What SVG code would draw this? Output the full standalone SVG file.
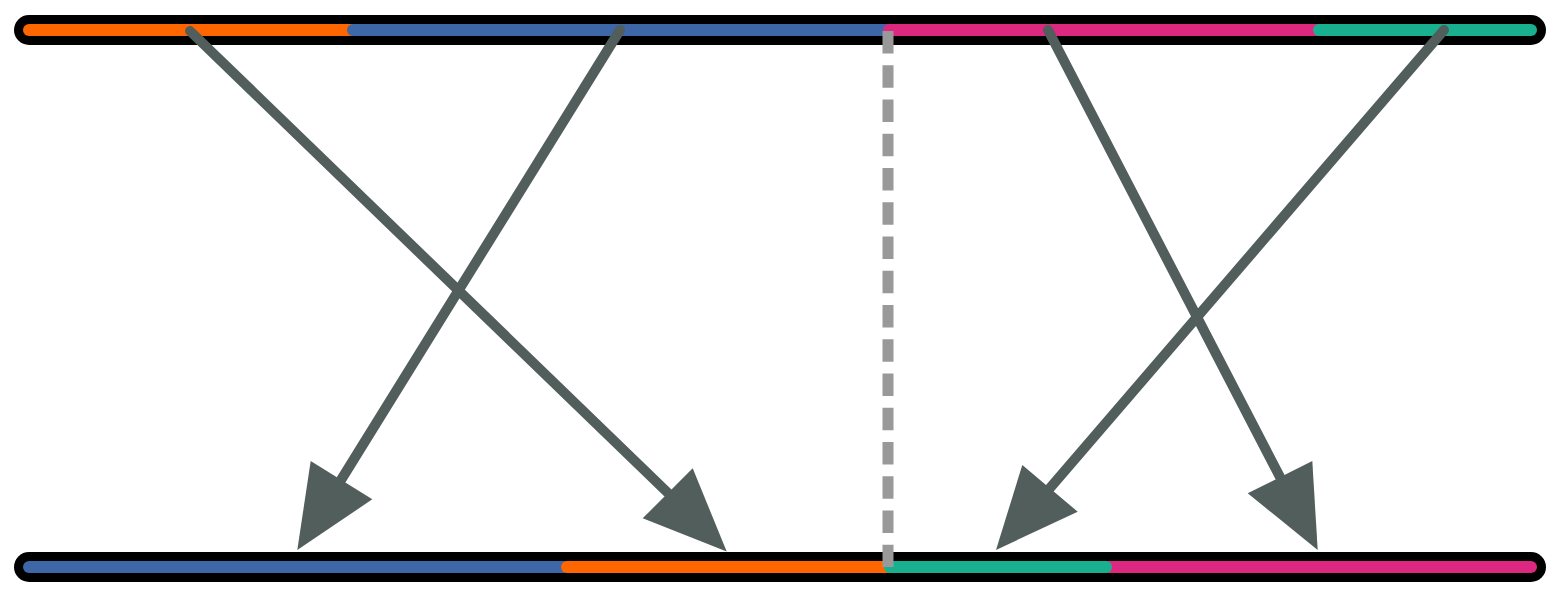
<svg xmlns="http://www.w3.org/2000/svg" width="1560" height="594" viewBox="0 0 1560 594">
<style>
.outer{stroke:#000;stroke-width:30;stroke-linecap:round;fill:none}
.seg{stroke-width:12;stroke-linecap:round;fill:none}
.o{stroke:#FF6600}.b{stroke:#3D67A6}.p{stroke:#DD2881}.g{stroke:#19B08F}
.shaft{stroke:#525E5C;stroke-width:10;stroke-linecap:round;fill:none}
.head{fill:#525E5C}
.div{stroke:#999999;stroke-width:11;stroke-dasharray:22.5 11.75;fill:none}
</style>
<rect width="1560" height="594" fill="#fff"/>
<g id="top-bar">
<line class="outer" x1="29" y1="30" x2="1531" y2="30"/>
<line class="seg o" x1="29" y1="30" x2="360" y2="30"/>
<line class="seg b" x1="353" y1="30" x2="895" y2="30"/>
<line class="seg p" x1="889" y1="30" x2="1325" y2="30"/>
<line class="seg g" x1="1319" y1="30" x2="1531" y2="30"/>
</g>
<g id="bottom-bar">
<line class="outer" x1="29" y1="567" x2="1531" y2="567"/>
<line class="seg b" x1="29" y1="567" x2="575" y2="567"/>
<line class="seg o" x1="567" y1="567" x2="895" y2="567"/>
<line class="seg p" x1="1100" y1="567" x2="1531" y2="567"/>
<line class="seg g" x1="890" y1="567" x2="1106" y2="567"/>
</g>
<g id="divider">
<line class="div" x1="888" y1="31" x2="888" y2="567"/>
</g>
<g id="connectors">
<line class="shaft" x1="190" y1="31" x2="668" y2="493"/>
<polygon class="head" points="692.7,468.3 642.7,518.3 726.7,551.5"/>
<line class="shaft" x1="620" y1="30" x2="341" y2="480"/>
<polygon class="head" points="310.7,461 372.3,499.3 297.3,550"/>
<line class="shaft" x1="1048" y1="30" x2="1280" y2="477"/>
<polygon class="head" points="1312.3,461 1247.7,493.3 1317.7,550"/>
<line class="shaft" x1="1444" y1="30" x2="1050" y2="488"/>
<polygon class="head" points="1022.3,465 1077.7,511.7 996,550"/>
</g>
</svg>
